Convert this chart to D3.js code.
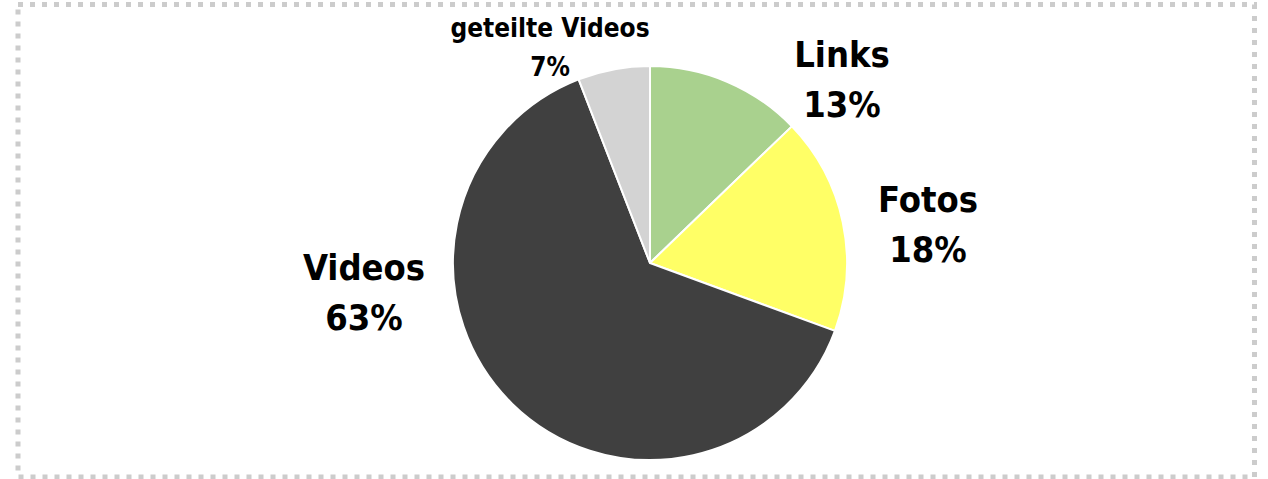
<!DOCTYPE html>
<html>
<head>
<meta charset="utf-8">
<script src="https://cdn.jsdelivr.net/npm/d3@7"></script>
<style>
  html, body { margin: 0; padding: 0; background: #fff; }
  svg text { font-family: "DejaVu Sans Condensed", "DejaVu Sans", sans-serif; font-stretch: condensed; font-weight: bold; fill: #000; }
</style>
</head>
<body>
<svg id="chart" width="1268" height="479"></svg>
<script>
// Data
const categories = ["Links", "Fotos", "Videos", "geteilte Videos"];
const values = [12.8, 17.8, 63.5, 5.9];
const percentLabels = ["13%", "18%", "63%", "7%"];
const colors = ["#a9d18e", "#ffff66", "#404040", "#d3d3d3"];

// Layout (not data)
const W = 1268, H = 479;
const cx = 650, cy = 263, R = 197;
// label anchor offsets from pie centre: [dx, first baseline dy, line gap, font size]
const labelLayout = [
  [192, -196, 50, 36],
  [278, -51, 50, 36],
  [-286, 17, 50, 36],
  [-100, -226, 39, 26]
];

const svg = d3.select("#chart");

svg.append("rect")
  .attr("x", 18).attr("y", 4.5)
  .attr("width", 1236.5).attr("height", 472.5)
  .attr("fill", "none")
  .attr("stroke", "#cccccc")
  .attr("stroke-width", 5)
  .attr("stroke-dasharray", "5 7");

const pie = d3.pie().sort(null).value(d => d);
const arcs = pie(values);
const arc = d3.arc().innerRadius(0).outerRadius(R);

const g = svg.append("g").attr("transform", `translate(${cx},${cy})`);

g.selectAll("path")
  .data(arcs)
  .join("path")
  .attr("d", arc)
  .attr("fill", (d, i) => colors[i])
  .attr("stroke", "#ffffff")
  .attr("stroke-width", 2)
  .attr("stroke-linejoin", "round");

const labels = g.selectAll("g.lbl")
  .data(arcs)
  .join("g")
  .attr("class", "lbl");

labels.each(function(d, i) {
  const [dx, dy, gap, fs] = labelLayout[i];
  const t = d3.select(this).append("text")
    .attr("text-anchor", "middle")
    .style("font-size", fs + "px");
  t.append("tspan").attr("x", dx).attr("y", dy).text(categories[i]);
  t.append("tspan").attr("x", dx).attr("y", dy + gap).text(percentLabels[i]);
});
</script>
</body>
</html>
